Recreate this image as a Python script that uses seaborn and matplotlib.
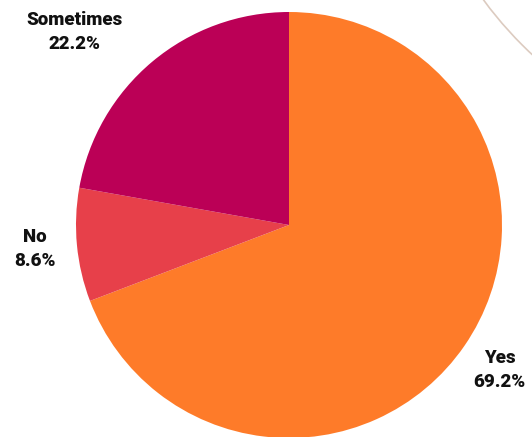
import matplotlib
matplotlib.use("Agg")
import matplotlib.pyplot as plt
import seaborn as sns
from matplotlib.patches import Circle

categories = ["Yes", "No", "Sometimes"]
values = [69.2, 8.6, 22.2]
colors = ["#FE7B29", "#E7404A", "#BB0056"]

sns.set_theme(style="white")
plt.rcParams["font.family"] = ["Roboto", "DejaVu Sans"]

W, H = 532, 437
fig = plt.figure(figsize=(W / 100, H / 100), dpi=100)
ax = fig.add_axes([0, 0, 1, 1])

cx, cy, R = 289, H - 225, 213
wedges, texts = ax.pie(values, colors=colors, startangle=90, counterclock=False,
                       radius=R, center=(cx, cy), labels=[f"{c}\n{v}%" for c, v in zip(categories, values)],
                       labeldistance=1.2, wedgeprops=dict(linewidth=0),
                       textprops=dict(fontsize=13.5, fontweight="heavy", color="#111111"))
for t in texts:
    t.set_ha("center")
    t.set_va("center")
    t.set_linespacing(1.45)
# move "Sometimes" label to the upper-left corner as in the reference
texts[2].set_position((cx - 1.005 * R, cy + 0.905 * R))

# decorative thin arc at the top-right corner
ax.add_patch(Circle((800, H + 233), 393, fill=False, edgecolor="#DCCBC0", linewidth=1.2))

ax.set_xlim(0, W)
ax.set_ylim(0, H)
ax.set_aspect("equal")
ax.axis("off")
fig.savefig("out.png", dpi=100)
